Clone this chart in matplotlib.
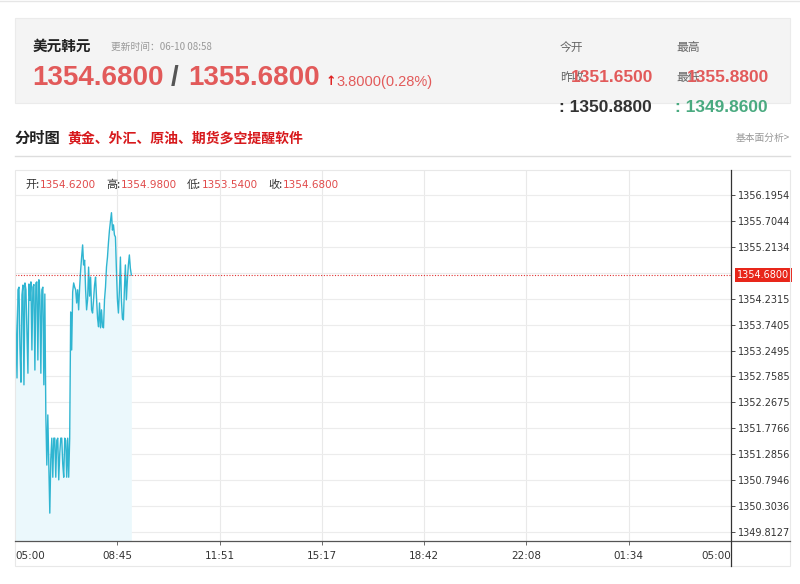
import matplotlib
matplotlib.use('Agg')
import matplotlib.pyplot as plt
from matplotlib.lines import Line2D
from matplotlib.patches import Rectangle

# ---------------- data ----------------
symbol = "美元韩元"
update_time = "更新时间：06-10 08:58"
bid = "1354.6800"
ask = "1355.6800"
change = "3.8000(0.28%)"
open_today = "1351.6500"
prev_close = "1350.8800"
high_day = "1355.8800"
low_day = "1349.8600"
ohlc_labels = ["开:", "高:", "低:", "收:"]
ohlc_values = ["1354.6200", "1354.9800", "1353.5400", "1354.6800"]
last_price = 1354.68

start_time = "05:00"
interval_min = 2
prices = [
    1354.36, 1353.64, 1352.73, 1354.40, 1354.45, 1353.30, 1352.65, 1354.30, 1354.49, 1352.60,
    1354.53, 1354.40, 1353.60, 1352.82, 1354.51, 1354.20, 1354.55, 1353.26, 1354.45, 1354.50,
    1352.88, 1354.53, 1354.55, 1353.07, 1354.59, 1354.30, 1352.82, 1354.40, 1354.45, 1352.60,
    1354.32, 1352.03, 1351.08, 1352.03, 1351.08, 1350.17, 1351.20, 1351.59, 1350.85, 1351.59,
    1351.59, 1350.85, 1351.55, 1351.59, 1350.80, 1351.30, 1351.59, 1351.59, 1351.10, 1350.85,
    1351.59, 1351.55, 1350.85, 1351.59, 1350.85, 1351.59, 1353.98, 1353.26, 1354.36, 1354.53,
    1354.45, 1354.40, 1354.15, 1354.40, 1354.02, 1354.45, 1354.77, 1355.02, 1355.25, 1354.87,
    1354.96, 1354.40, 1354.02, 1354.21, 1354.83, 1354.28, 1354.64, 1354.02, 1353.96, 1354.21,
    1354.49, 1354.64, 1354.24, 1353.86, 1353.70, 1354.15, 1353.68, 1354.02, 1353.70, 1353.68,
    1354.21, 1354.45, 1354.83, 1355.02, 1355.30, 1355.53, 1355.70, 1355.86, 1355.53, 1355.63,
    1355.44, 1355.40, 1354.77, 1354.21, 1353.96, 1354.40, 1355.02, 1354.21, 1353.86, 1353.83,
    1354.40, 1354.87, 1354.21, 1354.59, 1354.87, 1355.06, 1354.81, 1354.68,
]
x_tick_labels = ["05:00", "08:45", "11:51", "15:17", "18:42", "22:08", "01:34", "05:00"]
y_tick_values = [1349.8127, 1350.3036, 1350.7946, 1351.2856, 1351.7766, 1352.2675,
                 1352.7585, 1353.2495, 1353.7405, 1354.2315, 1355.2134, 1355.7044, 1356.1954]
y_tick_labels = ["1349.8127", "1350.3036", "1350.7946", "1351.2856", "1351.7766", "1352.2675",
                 "1352.7585", "1353.2495", "1353.7405", "1354.2315", "1355.2134", "1355.7044", "1356.1954"]
hidden_tick = 1354.7224
session_minutes = 1440

# ---------------- figure ----------------
W, H = 800, 584
fig = plt.figure(figsize=(W / 100, H / 100), dpi=100)
fig.patch.set_facecolor('white')
CJK = ['Noto Sans CJK SC', 'DejaVu Sans']
NUM = ['Liberation Sans', 'DejaVu Sans']


def fx(x):
    return x / W


def fy(y):
    return 1 - y / H


def ftext(x, y, s, **kw):
    kw.setdefault('va', 'center')
    kw.setdefault('ha', 'left')
    fig.text(fx(x), fy(y), s, **kw)


def fline(x0, y0, x1, y1, **kw):
    fig.add_artist(Line2D([fx(x0), fx(x1)], [fy(y0), fy(y1)], transform=fig.transFigure, **kw))


RED = '#e25a5a'

# top thin line
fline(0, 1, 800, 1, color='#e6e6e6', lw=1)

# header box
fig.add_artist(Rectangle((fx(15), fy(103)), (790 - 15) / W, (103 - 18) / H,
                         transform=fig.transFigure, facecolor='#f4f4f4', edgecolor='#ebebeb', lw=0.8))

ftext(33, 46, symbol, family=CJK, fontsize=10.5, fontweight='bold', color='#222')
ftext(111, 47, update_time, family=CJK, fontsize=7, color='#999')
ftext(32, 78, bid, family=NUM, fontsize=20, fontweight='bold', color=RED)
ftext(171, 78, "/", family=NUM, fontsize=20, fontweight='bold', color='#555')
ftext(188, 78, ask, family=NUM, fontsize=20, fontweight='bold', color=RED)
ftext(326, 81, "↑", family=['DejaVu Sans'], fontsize=9, fontweight='bold', color='#e02020')
ftext(336, 82, change, family=NUM, fontsize=10.5, color=RED)

ftext(560, 47, "今开", family=CJK, fontsize=8.5, color='#666')
ftext(676, 47, "最高", family=CJK, fontsize=8.5, color='#666')
ftext(560, 77, "昨收", family=CJK, fontsize=8.5, color='#666')
ftext(676, 77, "最低", family=CJK, fontsize=8.5, color='#666')
ftext(571, 77, open_today, family=NUM, fontsize=12.5, fontweight='bold', color=RED)
ftext(687, 77, high_day, family=NUM, fontsize=12.5, fontweight='bold', color=RED)
ftext(559, 107, ": " + prev_close, family=NUM, fontsize=12.5, fontweight='bold', color='#333')
ftext(675, 107, ": " + low_day, family=NUM, fontsize=12.5, fontweight='bold', color='#4aaa80')

# title row
ftext(15, 138, "分时图", family=CJK, fontsize=11, fontweight='bold', color='#222')
ftext(67, 138, "黄金、外汇、原油、期货多空提醒软件", family=CJK, fontsize=10, fontweight='bold', color='#d7191c')
ftext(790, 138, "基本面分析>", family=CJK, fontsize=7, color='#999', ha='right')
fline(15, 156, 790, 156, color='#dddddd', lw=1)

# chart outer border
fig.add_artist(Rectangle((fx(15), fy(566)), (790 - 15) / W, (566 - 170) / H,
                         transform=fig.transFigure, facecolor='none', edgecolor='#e8e8e8', lw=0.8))

# ---------------- axes ----------------
L, R, T, B = 15, 731, 170, 541
ax = fig.add_axes([fx(L), fy(B), (R - L) / W, (B - T) / H])
ymin, ymax = 1349.642, 1356.669
ax.set_xlim(0, session_minutes)
ax.set_ylim(ymin, ymax)

times = [i * interval_min for i in range(len(prices))]
ax.fill_between(times, prices, ymin, color='#ebf8fc', lw=0, zorder=1)
ax.plot(times, prices, color='#2fb5d1', lw=1.0, zorder=3)

xt = [i * session_minutes / 7 for i in range(8)]
ax.set_xticks(xt)
ax.set_xticklabels(x_tick_labels, fontsize=7.5, color='#333', family='DejaVu Sans')
lbls = ax.get_xticklabels()
lbls[0].set_ha('left')
lbls[-1].set_ha('right')
ax.tick_params(axis='x', length=3, width=0.6, color='#555', pad=4)

ax.yaxis.tick_right()
ax.set_yticks(y_tick_values)
ax.set_yticklabels(y_tick_labels, fontsize=7, color='#333', family='DejaVu Sans')
ax.tick_params(axis='y', length=3, width=0.6, color='#333', pad=2)

for v in xt[1:-1]:
    ax.axvline(v, color='#e9e9e9', lw=0.8, zorder=0)
for v in y_tick_values + [hidden_tick]:
    ax.axhline(v, color='#ececec', lw=0.8, zorder=0)

for s in ax.spines.values():
    s.set_visible(False)

ax.axhline(last_price, color='#e03030', lw=0.8, ls=(0, (1, 1.5)), zorder=4)
ax.annotate(f"{last_price:.4f}", xy=(1, last_price), xycoords=('axes fraction', 'data'),
            xytext=(6, 0), textcoords='offset pixels', ha='left', va='center',
            fontsize=7, color='white', family='DejaVu Sans',
            bbox=dict(boxstyle='square,pad=0.25', fc='#e8261a', ec='none'),
            annotation_clip=False, zorder=5)

# ohlc line inside chart
xs_lab = [25, 106, 187, 268]
for xl, lab, val in zip(xs_lab, ohlc_labels, ohlc_values):
    ftext(xl, 185, lab, family=CJK, fontsize=8, color='#333')
    ftext(xl + 15, 185, val, family=['DejaVu Sans'], fontsize=7.5, color='#e04a4a')

# axis lines
fline(L, B, 790, B, color='#555', lw=0.9)
fline(R, T, R, 566, color='#333', lw=0.9)

fig.savefig('out.png', dpi=100, facecolor='white')
